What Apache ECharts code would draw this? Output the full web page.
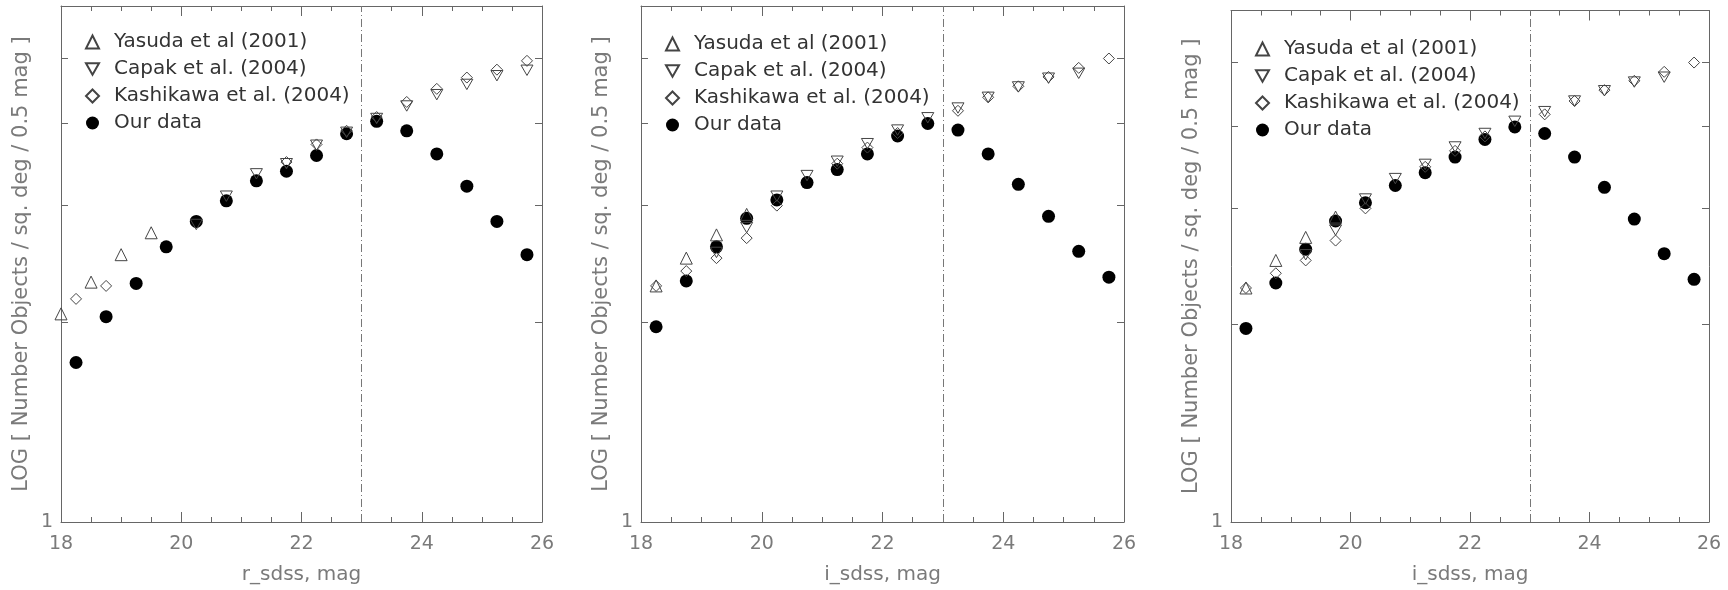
<!DOCTYPE html>
<html><head><meta charset="utf-8">
<script src="https://cdn.jsdelivr.net/npm/echarts@6/dist/echarts.min.js"></script>
<style>html,body{margin:0;padding:0;background:#fff}#c{width:1728px;height:590px}</style>
</head><body><div id="c"></div>
<script>
// magnitude bins
const magBins = [18.25, 18.75, 19.25, 19.75, 20.25, 20.75, 21.25, 21.75, 22.25, 22.75, 23.25, 23.75, 24.25, 24.75, 25.25, 25.75];

// Panel 1 (r_sdss)
const ourR      = [1.74, 2.04, 2.29, 2.60, 2.84, 3.05, 3.27, 3.38, 3.57, 3.85, 4.02, 3.89, 3.59, 3.21, 2.84, 2.53];
const capakR    = [null, null, null, null, 2.81, 3.10, 3.35, 3.47, 3.70, 3.87, 4.06, 4.24, 4.41, 4.57, 4.71, 4.80];
const kashiR    = [2.17, 2.27, null, null, null, null, null, 3.49, 3.71, 3.89, 4.08, 4.30, 4.50, 4.68, 4.81, 4.96];
const yasudaMagR = [18.0, 18.5, 19.0, 19.5];
const yasudaR    = [2.06, 2.30, 2.53, 2.73];

// Panel 2 & 3 (i_sdss)
const ourI      = [1.97, 2.31, 2.60, 2.87, 3.06, 3.25, 3.40, 3.59, 3.82, 3.99, 3.90, 3.59, 3.23, 2.89, 2.56, 2.34];
const capakI    = [null, null, 2.55, 2.78, 3.10, 3.33, 3.50, 3.72, 3.90, 4.07, 4.21, 4.37, 4.53, 4.67, 4.75, null];
const kashiI    = [2.27, 2.39, 2.50, 2.68, 3.00, null, 3.47, 3.67, 3.86, null, 4.17, 4.37, 4.54, 4.69, 4.84, 5.00];
const yasudaMagI = [18.25, 18.75, 19.25, 19.75];
const yasudaI    = [2.27, 2.50, 2.71, 2.91];

const xNames = ['r_sdss, mag', 'i_sdss, mag', 'i_sdss, mag'];
const yName = 'LOG [ Number Objects / sq. deg / 0.5 mag ]';
const yTickValues = [2, 3, 4, 5];
const yLabelValues = [1];
const completenessMag = 23;
const seriesNames = ['Yasuda et al (2001)', 'Capak et al. (2004)', 'Kashikawa et al. (2004)', 'Our data'];

const panels = [
  {our: ourR, capak: capakR, kashi: kashiR, yMag: yasudaMagR, yas: yasudaR},
  {our: ourI, capak: capakI, kashi: kashiI, yMag: yasudaMagI, yas: yasudaI},
  {our: ourI, capak: capakI, kashi: kashiI, yMag: yasudaMagI, yas: yasudaI}
];

const gridPos = [
  {left: 61, top: 6, width: 481, height: 522},
  {left: 641, top: 6, width: 483, height: 525},
  {left: 1231, top: 10.5, width: 478, height: 521.5}
];
const legendPos = [
  {left: 80, top: 27},
  {left: 660, top: 29},
  {left: 1250, top: 34}
];

const FONT = 'DejaVu Sans';
const AX = '#666';
const TXT = '#7a7a7a';
const pairs = (xs, ys) => xs.map((x, i) => [x, ys[i]]).filter(p => p[1] != null);
const downTri = 'path://M0,0L2,0L1,1.732Z';

const grid = [], xAxis = [], yAxis = [], series = [], legend = [];
gridPos.forEach((g, p) => {
  grid.push(Object.assign({}, g));
  const xBase = {
    type: 'value', gridIndex: p, min: 18, max: 26, interval: 2,
    axisLine: {show: true, onZero: false, lineStyle: {color: AX, width: 1}},
    axisTick: {show: true, inside: true, length: 10, lineStyle: {color: AX}},
    minorTick: {show: true, splitNumber: 4, length: 5, lineStyle: {color: AX}},
    splitLine: {show: false}
  };
  xAxis.push(Object.assign({}, xBase, {
    position: 'bottom',
    axisLabel: {show: true, color: TXT, fontSize: 19, fontFamily: FONT, margin: 13},
    name: xNames[p], nameLocation: 'middle', nameGap: 43,
    nameTextStyle: {color: TXT, fontSize: 20, fontFamily: FONT}
  }));
  xAxis.push(Object.assign({}, xBase, {position: 'top', axisLabel: {show: false}}));
  const yBase = {
    type: 'log', logBase: 10, gridIndex: p, min: 1, max: 6,
    axisLine: {show: true, lineStyle: {color: AX, width: 1}},
    axisTick: {show: true, inside: true, length: 7, customValues: yTickValues, lineStyle: {color: AX}},
    minorTick: {show: false},
    splitLine: {show: false}
  };
  yAxis.push(Object.assign({}, yBase, {
    position: 'left',
    axisLabel: {show: true, customValues: yLabelValues, color: TXT, fontSize: 19, fontFamily: FONT, margin: 8},
    name: yName, nameLocation: 'middle', nameGap: 29,
    nameTextStyle: {color: TXT, fontSize: 21, fontFamily: FONT}
  }));
  yAxis.push(Object.assign({}, yBase, {position: 'right', axisLabel: {show: false}}));

  const d = panels[p];
  const xi = p * 2, yi = p * 2;
  series.push({
    name: seriesNames[3], type: 'scatter', xAxisIndex: xi, yAxisIndex: yi,
    symbol: 'circle', symbolSize: 13, itemStyle: {color: '#000', opacity: 1},
    data: pairs(magBins, d.our), z: 2,
    markLine: {
      silent: true, symbol: 'none', label: {show: false},
      lineStyle: {color: '#777', width: 1, type: [8, 3, 1, 3]},
      data: [{xAxis: completenessMag}]
    }
  });
  const hollow = {color: 'rgba(255,255,255,0)', borderColor: '#444', borderWidth: 1, opacity: 1};
  series.push({
    name: seriesNames[0], type: 'scatter', xAxisIndex: xi, yAxisIndex: yi,
    symbol: 'triangle', symbolSize: 12, itemStyle: hollow, z: 3,
    data: pairs(d.yMag, d.yas)
  });
  series.push({
    name: seriesNames[1], type: 'scatter', xAxisIndex: xi, yAxisIndex: yi,
    symbol: downTri, symbolSize: 12, symbolKeepAspect: true, itemStyle: hollow, z: 3,
    data: pairs(magBins, d.capak)
  });
  series.push({
    name: seriesNames[2], type: 'scatter', xAxisIndex: xi, yAxisIndex: yi,
    symbol: 'diamond', symbolSize: 11, itemStyle: hollow, z: 3,
    data: pairs(magBins, d.kashi)
  });
  legend.push({
    orient: 'vertical', left: legendPos[p].left, top: legendPos[p].top,
    itemWidth: 13, itemHeight: 13, itemGap: 7, selectedMode: false,
    textStyle: {color: '#333', fontSize: 20, fontFamily: FONT, padding: [0, 0, 0, 10]},
    data: seriesNames
  });
});

const chart = echarts.init(document.getElementById('c'), null, {renderer: 'canvas'});
chart.setOption({animation: false, backgroundColor: '#fff', grid, xAxis, yAxis, legend, series});
</script>
</body></html>
